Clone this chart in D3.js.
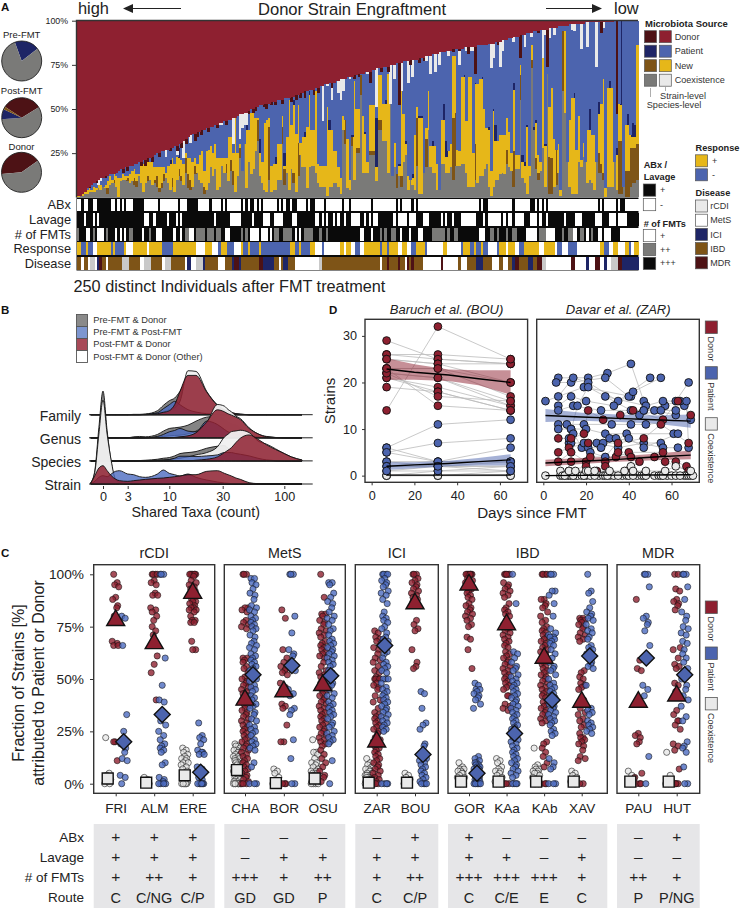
<!DOCTYPE html>
<html>
<head>
<meta charset="utf-8">
<script src="https://cdn.jsdelivr.net/npm/d3@7"></script>
<style>
    body { margin: 0; background: #fff; }
    svg { display: block; font-family: "Liberation Sans", Arial, sans-serif; fill: #222; }
</style>
</head>
<body>
<script>
// Panel A: share of strains per individual, read column by column (%)
var donorStrain = [99,99,98,97,95,94,93,92,91,90,89,89,88,88,87,87,87,86,85,84,84,83,83,82,82,81,81,80,80,79,79,78,78,77,76,75,75,74,74,73,73,72,72,71,71,70,69,68,67,66,65,64,64,63,63,62,62,61,61,60,60,59,59,58,58,57,57,56,56,55,55,54,53,53,52,52,51,50,50,49,49,48,48,47,47,47,46,46,46,45,45,45,44,44,44,43,43,42,42,41,41,40,40,39,39,39,38,38,37,37,36,36,35,35,35,34,34,33,33,33,32,32,32,31,31,30,30,30,29,29,29,28,28,27,27,27,26,26,26,25,25,25,24,24,24,23,23,23,22,22,22,22,21,21,21,20,20,20,19,19,19,18,18,18,17,17,17,16,16,16,16,16,15,15,15,15,15,15,14,14,14,14,14,13,13,13,12,12,12,11,11,11,10,10,9,9,9,8,8,8,7,7,7,6,6,6,5,5,5,5,4,4,4,4,3,3,3,3,3,2,2,2,2,2,2,2,1,1,1,1,1,1,1,1,1,1,0.5,0.5,0.5,0,0,0,0,0,0,0,0,0,0,0];
var coexSpecies = [0,1,1,2,2,3,3,3,4,5,4,6,5,2,7,8,8,6,0,9,10,10,9,8,9,7,6,12,8,3,8,9,10,7,8,6,3,5,9,11,8,4,6,3,10,12,9,7,14,5,4,6,13,14,10,8,2,4,8,17,
    12,16,4,6,18,14,14,9,15,7,3,12,22,15,30,5,20,13,16,26,32,12,8,4,3,
    10,3,4,4,10,10,30,7,14,4,16,8,3,12,24,17,17,5,17,18,18,14,8,6,6,6,1,6,6,8,8,6,2,38,30,5,4,29,10,25,25,58,14,14,14,24,24,24,9,38,38,32,32,14,60,12,17,5,12,6,20,24,4,10,7,4,18,2,2,14,17,38,17,14,14,4,4,19,19,14,14,
    17,10,18,18,18,19,19,14,6,6,6,10,8,12,12,16,19,6,1,6,10,10,13,14,13,19,17,15,6,16,16,55,11,8,2,12,73,38,16,10,15,28,6,70,2,2,6,7,14,1,60,48,20,6,2,2,2,20,17,23,20,8,10,8,4,20,14,14,10,0,6,6,6,20,4,2,2,6,0,0,6,8,8,10];
var newStrain = [1,0,1,1,2,2,1,3,1,2,3,0,2,4,5,2,4,6,11,2,3,2,1,5,6,5,4,1,11,16,15,8,10,13,7,5,12,9,4,3,10,15,11,16,13,6,9,12,3,9,12,14,4,5,14,18,9,22,19,12,
    13,14,18,16,4,8,3,25,13,10,42,13,2,0,0,33,18,35,32,19,1,13,12,38,41,
    5,15,15,15,20,20,6,2,20,51,25,38,33,21,7,17,17,35,41,20,20,46,11,12,12,12,50,32,32,18,18,11,9,8,0,28,6,0,56,22,22,0,32,22,6,26,26,26,8,25,25,21,21,56,0,0,14,0,6,49,27,6,8,0,4,31,6,43,43,0,6,22,12,15,15,15,0,25,25,9,12,
    13,35,32,9,8,49,49,29,62,62,19,34,56,55,55,34,20,32,14,43,22,22,22,21,22,18,20,10,35,8,8,6,9,10,38,6,8,0,20,10,5,60,23,0,28,40,27,0,16,3,0,46,0,38,54,54,25,26,4,8,0,30,28,27,31,0,22,34,53,5,56,56,56,0,20,21,20,0,26,26,7,6,6,56];
var newSpecies = [0,0,0,0,0,0,0,0,0,0,0,0,0,3,0,0,2,0,0,0,0,0,2,0,0,4,3,0,0,0,0,3,0,0,2,6,2,3,4,0,0,0,5,0,0,4,3,0,8,8,6,0,5,0,0,0,4,0,0,0,
    0,0,0,0,0,0,5,0,6,8,0,0,6,0,0,0,0,0,0,0,12,0,0,0,0,
    30,0,0,0,0,0,10,9,0,0,0,6,0,19,0,0,0,0,0,0,0,0,0,0,0,0,0,0,0,0,0,0,0,0,14,0,0,5,0,3,3,11,0,0,0,2,2,2,0,6,6,0,0,0,0,0,0,8,0,6,0,0,0,0,0,0,27,0,0,0,16,0,0,0,0,0,0,0,0,0,0,
    0,35,30,0,0,0,0,0,0,0,0,20,0,0,0,0,0,0,0,0,0,0,0,0,0,8,0,0,20,0,0,14,0,0,0,0,5,0,6,4,0,0,0,0,21,20,0,20,0,0,34,0,0,0,0,0,0,0,0,0,0,0,0,0,0,0,11,5,4,0,0,0,0,0,0,30,30,0,15,15,22,20,20,20];
var patientSpeciesSparse = [[41,2],[45,6],[75,4],[81,8],[88,4],[92,7],[96,3],[101,3],[103,2],[112,6],[122,1],[128,1],[133,28],[137,2],[143,1],[146,2],[149,2],[152,1],[153,1],[158,3],[163,9],[164,9],[172,1],[177,1],[180,1],[183,2],[185,1],[186,9],[194,4],[198,4],[199,2],[200,1],[203,2],[204,2],[208,1],[221,3],[228,12],[232,7],[237,4],[240,4],[242,56],[245,6],[247,8],[248,7]];
var coexStrainSparse = [[9,3],[10,2],[39,4],[44,2],[47,10],[50,4],[63,1],[64,1],[69,15],[72,14],[73,8],[74,7],[75,7],[109,20],[111,1],[113,7],[116,7],[117,12],[118,7],[121,1],[129,1],[133,22],[139,22],[141,8],[144,16],[147,12],[149,10],[155,3],[157,10],[159,10],[161,7],[165,3],[170,8],[173,2],[175,2],[176,2],[184,14],[185,8],[188,14],[189,6],[194,3],[199,7],[202,2],[207,16],[208,3],[210,6],[212,4],[220,3],[221,4],[224,14],[227,14],[231,25],[234,3]];
var donorSpeciesSparse = [[5,1],[8,1],[12,1],[20,2],[22,2],[28,2],[30,3],[31,2],[33,3],[36,2],[41,2],[44,3],[46,3],[48,3],[52,4],[53,3],[55,3],[58,2],[62,2],[66,2],[76,2],[78,2],[79,2],[83,2],[84,3],[86,2],[88,2],[91,2],[95,3],[97,3],[99,3],[101,4],[105,3],[107,3],[113,3],[123,2],[125,2],[130,6],[135,2],[138,3],[143,24],[148,3],[152,3],[154,2],[167,2],[170,1],[174,4],[177,15],[187,2],[197,13],[205,1],[209,21],[233,6],[240,53]];

var abxOff = [[0,1],[3,4],[7,8],[15,16],[18,18],[20,20],[22,24],[30,33],[34,35],[37,41],[42,43],[44,44],[46,48],[54,58],[60,63],[65,65],[67,72],[74,74],[76,76],[79,79],[81,81],[83,84],[85,88],[90,90],[92,92],[95,95],[98,101],[103,103],[106,109],[111,117],[119,120],[122,130],[132,141],[143,143],[145,148],[150,150],[152,163],[164,178],[180,180],[183,193],[195,201],[204,204],[206,206],[208,208],[210,221],[222,231],[233,233],[235,239],[241,241],[244,249]];
var lavageOff = [[3,3],[7,7],[9,9],[30,31],[34,34],[40,40],[44,44],[46,46],[61,61],[68,72],[78,78],[83,85],[88,89],[90,91],[96,97],[106,107],[109,109],[111,111],[114,114],[116,116],[119,119],[122,124],[125,125],[128,128],[130,130],[132,133],[141,141],[143,146],[148,150],[154,156],[162,162],[164,164],[167,167],[171,177],[181,181],[183,185],[186,187],[188,188],[190,190],[192,193],[195,198],[202,204],[206,206],[209,209],[217,217],[222,224],[231,233],[237,239],[241,244]];
var fmtOne = [[4,5],[9,11],[17,17],[19,19],[21,21],[29,29],[35,37],[43,43],[46,46],[50,51],[66,67],[77,80],[82,84],[86,86],[97,97],[99,99],[126,127],[131,131],[144,144],[148,148],[152,153],[179,181],[200,204],[209,212],[221,222],[227,227],[232,233],[235,237],[242,249]];
var fmtTwo = [[0,0],[7,7],[13,13],[23,24],[32,32],[48,49],[53,56],[58,60],[62,63],[73,73],[75,75],[88,89],[92,95],[101,104],[108,108],[111,111],[135,135],[137,137],[140,141],[158,163],[165,165],[168,169],[184,185],[187,187],[191,191],[194,195],[206,208],[216,216],[219,220],[224,225],[229,229]];
var responseRuns = [["+",2],["-",2],["+",1],["-",2],["NA",2],["+",6],["-",1],["+",1],["-",4],["+",1],["NA",3],["+",6],["NA",1],["+",6],["-",5],["+",10],["NA",4],["+",3],["NA",3],["-",1],["+",3],["-",3],["NA",3],["+",1],["-",2],["+",1],["-",4],["+",1],["-",13],["+",2],["-",2],["+",1],["-",4],["+",2],["NA",3],["-",1],["NA",7],["+",2],["NA",1],["+",2],["NA",2],["-",2],["NA",2],["+",3],
    ["+",4],["-",1],["+",2],["-",1],["+",4],["NA",2],["+",2],["NA",2],["-",2],["+",4],["-",1],["NA",7],["+",2],["NA",6],["-",1],["+",3],["-",2],["+",1],["-",2],["+",1],["-",2],["NA",4],["-",1],["+",3],["NA",1],["+",3],["NA",2],["-",2],["+",7],["NA",2],["+",5],["NA",1],["-",2],["NA",3],["-",4],["NA",10],["+",2],["-",2],["NA",2],["+",2],["NA",3],["+",2],["-",1],["NA",1],["+",2]];
var diseaseRuns = [["IBD",2],["MetS",1],["IBD",2],["MetS",1],["rCDI",2],["MetS",1],["ICI",1],["MDR",1],["IBD",2],["MetS",1],["IBD",6],["rCDI",3],["IBD",5],["MetS",2],["rCDI",3],["IBD",5],["MetS",1],["rCDI",3],["IBD",6],["MetS",1],["ICI",2],["MetS",2],["rCDI",3],["ICI",1],["IBD",6],["MetS",3],["IBD",3],["ICI",1],["MDR",2],["ICI",1],["IBD",8],["MDR",2],["ICI",5],["IBD",2],["MetS",1],["IBD",1],["ICI",2],["IBD",3],["MetS",4],["MetS",7],["rCDI",1],["IBD",21],
    ["IBD",5],["MetS",1],["IBD",2],["MDR",1],["IBD",4],["MDR",1],["IBD",2],["MetS",1],["MDR",1],["IBD",1],["MDR",1],["IBD",4],["MetS",8],["MDR",1],["MetS",7],["IBD",1],["MetS",3],["IBD",4],["ICI",3],["IBD",4],["MetS",3],["IBD",2],["MetS",2],["IBD",2],["ICI",1],["MDR",2],["IBD",4],["ICI",2],["IBD",2],["MDR",2],["rCDI",2],["MetS",11],["MDR",2],["MetS",5],["ICI",1],["MetS",3],["MDR",2],["MetS",2],["ICI",1],["MetS",2],["rCDI",3],["MDR",2],["ICI",6]];

var prePie = [20, 80];
var postPie = [32, 57.5, 8.3, 2.2];
var donorPie = [41.6, 58.4];

// Panel B: ridge heights on a shared grid of taxa counts
var taxaGrid = [-1.5,-1,-0.5,0,0.5,1,1.5,2,3,4,5,6,8,9,10,12,14,17,20,24,28,32,36,40,45,50,60,70,80,100,120,150];
var familyGrey  = [0,0,0,0,0,0,0,0,0,1,1,2,12,28,42,50,70,110,110,60,24,12,8,5,2,1,0,0,0,0,0,0];
var familyOther = [0,0,0,0,0,0,0,0,0,0,0,1,4,8,15,20,40,132,130,70,30,15,10,7,3,2,0,0,0,0,0,0];
var familyBlue  = [0,0,0,0,0,0,0,0,0,0,0,1,6,18,30,40,30,15,8,3,1,0,0,0,0,0,0,0,0,0,0,0];
var familyRed   = [0,0,0,0,0,0,0,0,0,0,0,0,3,7,12,30,70,118,118,68,28,14,9,6,3,1,0,0,0,0,0,0];
var genusGrey   = [0,0,0,0,0,0,0,0,0,3,4,3,10,20,28,30,32,38,50,62,65,55,48,42,38,30,12,5,1,0,0,0];
var genusOther  = [0,0,0,0,0,0,0,0,0,0,0,0,2,4,6,7,8,12,20,45,100,95,85,78,65,58,30,12,4,0,0,0];
var genusBlue   = [0,0,0,0,0,0,0,0,0,0,0,0,4,10,18,22,28,20,18,50,40,25,18,14,11,9,4,2,0,0,0,0];
var genusRed    = [0,0,0,0,0,0,0,0,0,0,0,0,0,0,0,1,3,6,15,48,84,78,72,68,62,55,28,12,3,0,0,0];
var speciesGrey = [0,0,0,0,0,0,0,0,0,0,1,2,5,8,10,15,22,25,28,38,44,46,38,30,30,28,14,6,2,0,0,0];
var speciesOther= [0,0,0,0,0,0,0,0,0,0,0,0,2,3,4,6,8,12,18,25,42,72,80,88,90,92,85,60,50,22,12,2];
var speciesBlue = [0,0,0,0,0,0,0,0,0,0,0,0,1,2,4,8,14,14,13,15,18,25,25,25,22,20,15,8,3,0,0,0];
var speciesRed  = [0,0,0,0,0,0,0,0,0,0,0,0,0,0,0,0,0,0,2,5,12,25,32,40,55,68,78,65,48,22,12,3];
var strainGrey  = [3,40,170,279,160,65,12,3,0,0,0,0,0,0,0,0,0,0,0,0,0,0,0,0,0,0,0,0,0,0,0,0];
var strainOther = [3,35,150,252,150,70,15,5,2,0,0,0,0,0,0,0,0,0,0,0,0,0,0,0,0,0,0,0,0,0,0,0];
var strainBlue  = [1,8,20,25,22,30,38,40,30,28,22,20,30,42,32,28,24,30,20,12,6,3,2,1,0,0,0,0,0,0,0,0];
var strainRed   = [2,25,48,55,40,25,15,10,8,10,12,14,17,18,20,22,24,28,28,38,40,32,28,24,18,14,4,1,0,0,0,0];
var ridgeTicks = [0,3,10,30,100];
var ridgeRows = ["Family","Genus","Species","Strain"];

// Panel D: Baruch subjects at three visits
var bouDays = [7,31,65];
var bouDonorSubjects = [[29,25,24],[26,26,25],[26,25,24],[25,24,24],[25,24,20],[23,23,20],[23,23,17],[22,21,16],[22,21,15],[21,19,15],[19,18,14],[14,32,25],[21,18,14],[22,17,16],[23,15,14]];
var bouPatientSubjects = [[6,11,12],[5,7,8],[6,3,6],[5,3,3],[3,3,3],[3,2,2],[2,2,2],[2,2,3],[1,1,2],[1,2,1]];
var bouCoexSubjects = [[0,0,0],[0,1,1],[0,0,0],[0,0,1]];
// Panel D: Davar subjects as [day, strains] tracks
var zarPatientTracks = [
    [[1,16],[19,19],[41,17]],[[7,21],[21,21],[30,22],[41,24],[47,16]],[[6,20],[13,20],[29,21],[40,17]],[[7,17],[14,21],[21,20],[35,16],[50,21]],
    [[7,15],[13,17],[20,16],[33,15],[42,18],[55,21]],[[7,14],[14,15],[27,14],[47,14],[57,15]],[[7,11],[11,11],[19,11],[32,11],[41,11],[48,11],[69,12]],
    [[7,10],[13,10],[20,10],[29,9],[39,9],[61,9]],[[12,7],[13,10],[18,6],[25,7],[35,6],[47,7],[55,7]],[[14,9],[12,8],[16,15],[21,19],[41,14],[52,14],[62,13]],
    [[13,7],[19,7],[28,7],[40,8],[47,6],[63,9]],[[21,6],[27,6],[31,8],[34,8],[56,6],[63,6]],[[22,5],[29,4],[45,13],[55,14],[62,14],[66,15]],
    [[29,17],[48,15],[56,16],[62,16],[68,20]],[[47,14],[64,16],[67,16],[68,6]]];
var zarDonorTracks = [
    [[7,8],[13,8],[19,9],[21,14],[28,12],[36,13],[42,14],[56,12],[63,16],[69,13]],[[7,5],[12,6],[21,7],[35,7],[47,8],[55,11],[68,7]],[[7,3],[13,5],[20,3],[29,3],[40,5],[56,5],[62,3],[67,2]],
    [[13,3],[22,4],[34,4],[41,4],[52,4],[57,3],[68,1]],[[12,1],[20,2],[25,1],[29,2],[35,5],[45,3],[39,1]]];
var zarCoexTracks = [
    [[1,0],[8,0],[11,0],[15,0],[20,0],[26,0],[31,0],[37,0],[44,0],[52,0],[58,0],[66,0]],[[8,1],[12,0],[16,0],[22,0],[28,0],[33,0],[39,0],[46,0],[54,0],[60,0],[67,0]],
    [[9,0],[13,0],[18,0],[24,0],[29,0],[35,0],[40,0],[47,0],[55,0],[62,0],[68,0]],[[10,0],[14,0],[19,0],[30,0],[42,0],[48,0],[56,0],[64,0],[69,0],[70,0]],
    [[12,1],[15,1],[20,1],[21,1],[24,1],[31,1],[38,1],[41,2],[42,1],[48,1],[57,1],[62,2],[69,1]]];
var bouFitDays = [7,20,36,50,65];
var bouDonorFit = [22.9,22.2,21.6,20.8,20], bouDonorLo = [20.6,20.6,20.3,19.4,17.4], bouDonorHi = [25.2,23.9,22.8,22.6,22.6];
var bouPatientFit = [2,2.3,2.6,3,3.4], bouPatientLo = [1.2,1.6,2,2.2,2.2], bouPatientHi = [2.9,2.9,3.2,3.8,4.6];
var bouCoexFit = [0.1,0.1,0.1,0.1,0.1], bouCoexLo = [0,0,0,0,0], bouCoexHi = [0.3,0.2,0.2,0.2,0.3];
var zarFitDays = [1,18,35,52,69];
var zarPatientFit = [12.9,12.6,12.3,12,11.7], zarPatientLo = [11.5,11.8,11.5,11.2,10.3], zarPatientHi = [14.3,13.5,13.1,12.9,13.1];
var zarDonorFit = [2.7,3.1,3.5,4,4.4], zarDonorLo = [2,2.5,3,3.3,3.5], zarDonorHi = [3.4,3.8,4.1,4.7,5.4];
var zarCoexFit = [0,0.05,0.1,0.15,0.2], zarCoexLo = [0,0,0,0,0], zarCoexHi = [0.2,0.2,0.3,0.3,0.5];

// Panel C: per individual fractions by study (%)
var friDonor = [100,96,95,94,89,88,85,84,80,78,68,67,66,66,20,20,11];
var friPatient = [80,79,66,33,25,19,17,15,12,11,4,3,0];
var friCoex = [22,5,4,2,1,0,0];
var almDonor = [100,100,100,100,97,96,95,91,90,90,84,83,82,80,78,75,73,71,61,57,53,40];
var almPatient = [100,100,100,60,47,40,39,33,30,28,25,23,21,19,18,17,16,15,10,9,3,2,1,0,0,0,0];
var almCoex = [3,2,1,0];
var ereDonor = [100,100,100,100,100,100,100,99,97,96,95,94,93,92,91,90,89,88,87,87,86,85,84,84,83,83,82,80,78,78,77,77,68,64,64];
var erePatient = [29,23,22,21,19,16,15,15,14,14,8,7,6,5,4,3,2,0,0,0,0,0,0];
var ereCoex = [17,16,15,14,13,12,12,11,10,10,9,8,7,6,5,4,3,2,1,0,0,0,0,0];
var chaDonor = [100,100,100,84,84,83,82,78,77,76,75,74,60,60,59,58,56,55,53,51,50,49,48,47,46,45,44,43,42,41,40,39,38,37,36,35,34,33,32,31,30,29,28,27,26,25,24,23,22,21,20,19,18,17,16,15,14,13,12,11,10,9,8,7,6,5,4,3,2,1,0,0,0];
var chaPatient = [98,98,96,95,93,91,90,88,85,84,83,82,80,79,78,77,76,75,74,73,71,70,68,67,66,65,64,62,61,60,59,58,57,56,55,54,53,52,51,50,49,47,46,45,44,42,41,40,38,37,36,34,33,31,30,28,27,26,25,24,23,21,20,19,18,17,16,10,8,0,0,0];
var chaCoex = [19,18,18,17,16,16,15,15,14,14,13,13,12,12,11,11,10,10,9,9,8,8,7,7,6,6,5,5,4,4,3,3,2,2,1,1,0,0,0,0,0,0,0];
var borDonor = [83,79,64,60,58,56,55,54,53,52,48,46,45,44,43,38,37,36,28,20,20,0,0,0];
var borPatient = [100,100,100,80,72,64,62,61,58,54,45,43,42,36,35,33,21,12,0,0];
var borCoex = [7,6,5,3,1,0,0];
var osuDonor = [100,89,81,81,80,78,77,76,74,73,72,71,70,68,67,66,65,64,63,62,61,60,58,56,54,53,52,51,50,49,48,46,45,44,43,42,41,40,39,38,37,36,35,34,33,32,31,30,29,28,27,26,25,24,23,22,21,20,19,18,16,14,12,10,8,6,4,3,1];
var osuPatient = [96,96,95,91,89,87,86,84,82,80,79,78,76,74,73,71,69,68,67,66,65,64,63,62,61,60,59,58,57,56,54,53,52,51,50,49,48,47,45,43,42,41,39,38,37,36,35,34,33,32,31,29,28,27,25,24,23,22,21,20,19,11,0];
var osuCoex = [21,15,15,14,12,10,10,9,8,7,6,6,5,5,4,4,3,3,2,2,1,1,0,0,0,0];
var zarDonor = [73,72,70,69,68,65,64,62,60,59,58,56,54,53,51,50,50,50,50,48,47,46,45,42,40,39,36,34,33,32,31,30,29,28,27,26,25,24,22,21,20,19,18,17,16,15,14,13,12,11,10,9,8,7,6,5,4,3,2,1,0,0,0];
var zarPatient = [100,100,100,100,98,97,96,95,94,92,91,90,88,86,82,80,79,78,77,75,74,72,70,69,68,67,66,65,63,62,60,58,57,56,55,54,53,50,50,50,48,46,45,44,43,42,41,40,39,38,37,36,35,34,33,32,31,30,29,28,27,26,25,0,0,0,0];
var zarCoex = [12,10,9,8,7,7,6,6,5,5,4,4,4,3,3,3,2,2,2,1,1,1,0,0,0,0,0,0];
var bouDonor = [100,100,100,98,97,96,95,94,93,92,91,90,89,88,87,87,78,76,74,73,64,58,56,55];
var bouPatient = [44,43,36,29,28,26,19,18,13,12,11,10,9,8,7,6,5,4,3,2,1,0,0,0,0];
var bouCoex = [5,4,3,2,0,0];
var gorDonor = [100,100,100,100,100,100,100,100,98,97,96,95,94,93,92,91,90,89,88,86,85,84,83,82,81,80,79,78,76,75,70,69,64,55];
var gorPatient = [48,47,45,45,44,43,42,41,40,38,36,13,12,11,10,10,9,9,8,8,7,7,6,6,5,5,4,4,3,3,2,2,1,1,0,0,0,0,0,0];
var gorCoex = [10,8,7,7,6,6,5,5,4,3,3,2,1,0,0];
var kaaDonor = [100,100,100,100,100,96,95,94,93,92,91,90,89,86,84,83,82,81,80,78,76,75,74,73,72,71,70,69,68,67,66,65,63,62,61,60,59,58,57,56,55,54,53,52,51,50,49,48,47,46,45,42,42,38,37,36,35,0,0,0];
var kaaPatient = [100,86,63,62,60,58,56,55,54,52,51,50,49,48,47,46,45,44,43,42,41,40,39,38,37,36,35,34,33,32,31,30,29,28,27,26,25,24,22,21,20,19,18,17,16,15,14,13,12,11,10,9,8,7,6,5,4,3,0,0,0,0];
var kaaCoex = [12,11,10,8,7,6,6,5,4,3,1,0,0,0];
var kabDonor = [100,100,100,100,88,88,86,85,84,82,80,78,77,75,74,73,72,71,70,69,68,67,66,65,64,63,62,60,59,58,57,56,55,54,53,52,51,50,49,48,47,46,45,44,43,42,41,39,38,37,36,35,34,33,32,31,30,29,20,19,17,15,13,10,8,0,0,0];
var kabPatient = [100,100,100,92,92,90,86,80,74,72,71,70,70,69,68,67,66,64,62,60,58,56,55,54,52,50,48,47,46,45,44,43,42,41,40,38,37,36,35,34,33,32,31,30,29,28,26,25,24,23,12,10,8,7,0,0,0];
var kabCoex = [17,9,8,7,7,6,6,5,5,4,3,2,0,0,0];
var xavDonor = [79,79,78,78,77,76,75,74,72,71,70,69,68,54,53,51,50,48,47,46,45,40,39,36,34,33,31,30,28,27,24,22,22,21,20,19,18,16,13,12,11,0,0];
var xavPatient = [100,92,91,87,84,82,81,80,79,78,76,74,73,72,70,69,66,65,64,63,62,58,57,56,55,47,36,35,34,33,30,29,28,27,26,25,24];
var xavCoex = [6,5,4,3,2,1,0,0];
var pauDonor = [88,59,55,54,24,23,22,20,19,5,3,0,0,0];
var pauPatient = [100,100,100,94,80,79,77,76,73,66,47,45,42,13,0];
var pauCoex = [6,4,2,1,0];
var hutDonor = [100,100,93,92,88,87,86,85,83,65,64,60,57,56,55,48,47,44,42,35,33,30,30,28,26,19,18,16,7,0,0,0,0];
var hutPatient = [100,100,100,94,88,82,80,78,75,74,72,71,68,67,64,62,60,58,55,52,50,47,45,42,40,37,32,30,20,18,17,15,8,0,0];
var hutCoex = [15,4,2,1,0,0];

var studies = ["FRI","ALM","ERE","CHA","BOR","OSU","ZAR","BOU","GOR","KAa","KAb","XAV","PAU","HUT"];
var meanDonor = [78,67,91,40,44,47,20,86,95,76,60,39,39,42];
var meanPatient = [20,33,5.5,52,56.5,51.5,66,14,5,24,40,61,60,52];
var meanCoex = [2.5,0.5,4,6.5,0.3,2.5,0.5,0.5,1,1,1,1,1,1];
var abxRow = ["+","+","+","–","–","–","–","+","+","–","–","–","–","+"];
var lavageRow = ["+","+","+","–","+","+","+","+","+","+","–","+","–","–"];
var fmtRow = ["+","++","+","+++","+","++","+","++","+++","+++","+++","+","++","+"];
var routeRow = ["C","C/NG","C/P","GD","GD","P","C","C/P","C","C/E","E","C","P","P/NG"];
var jitterSteps = [-2,1.5,-1,3,0,-3,2,1,-1.5,3.5,-3.5,1.5,-2,2.5,-0.5];

var red = "#8e2030", darkRed = "#4d1215", blue = "#4c64ae", navy = "#1e2566",
    gold = "#e6b719", brown = "#7e5417", grey = "#7a7a78", pale = "#e9e9e9";

var svg = d3.select("body")
            .append("svg")
            .attr("width", 740)
            .attr("height", 909);

function text(x, y, s, size, anchor, weight, color) {
    return svg.append("text")
              .attr("x", x)
              .attr("y", y)
              .attr("dy", "0.35em")
              .attr("text-anchor", anchor || "start")
              .attr("font-size", size)
              .attr("font-weight", weight || "normal")
              .attr("fill", color || "#222")
              .text(s);
}

function box(x, y, w, h, fill, stroke, strokeWidth) {
    return svg.append("rect")
              .attr("x", x)
              .attr("y", y)
              .attr("width", w)
              .attr("height", h)
              .attr("fill", fill)
              .attr("stroke", stroke || "none")
              .attr("stroke-width", strokeWidth || 1);
}

function styleAxis(g, size) {
    g.selectAll("text").attr("font-size", size).attr("fill", "#222");
    g.selectAll("line").attr("stroke", "#333");
    g.select(".domain").remove();
}

[["A", 1, 7], ["B", 1, 310], ["C", 1, 552.5], ["D", 329, 310]].forEach(function(d) {
    text(d[1], d[2], d[0], 11.5, "start", "bold", "#111");
});

// ---- panel A ----
var colX = d3.scaleBand().domain(d3.range(250)).range([77, 638]);
var pctY = d3.scaleLinear().domain([0, 100]).range([197.3, 20.7]);
var stackKeys = ["coexSpecies", "newSpecies", "newStrain", "patientSpecies", "patientStrain", "coexStrain", "donorSpecies", "donorStrain"];
var stackColors = {
    coexSpecies: grey, newSpecies: brown, newStrain: gold, patientSpecies: navy,
    patientStrain: blue, coexStrain: pale, donorSpecies: darkRed, donorStrain: red
};

function fromSparse(pairs) {
    var out = d3.range(250).map(function() { return 0; });
    pairs.forEach(function(p) { out[p[0]] = p[1]; });
    return out;
}

var patientSpecies = fromSparse(patientSpeciesSparse);
var coexStrain = fromSparse(coexStrainSparse);
var donorSpecies = fromSparse(donorSpeciesSparse);

var stackRows = d3.range(250).map(function(i) {
    var left = 100 - donorStrain[i];
    var row = { donorStrain: donorStrain[i] };
    [["donorSpecies", donorSpecies], ["coexStrain", coexStrain], ["coexSpecies", coexSpecies],
     ["newSpecies", newSpecies], ["newStrain", newStrain], ["patientSpecies", patientSpecies]].forEach(function(k) {
        row[k[0]] = Math.min(k[1][i], left);
        left -= row[k[0]];
    });
    row.patientStrain = left;
    return row;
});

svg.append("g")
   .attr("shape-rendering", "crispEdges")
   .selectAll("g")
   .data(d3.stack().keys(stackKeys)(stackRows))
   .enter()
   .append("g")
   .attr("fill", function(d) { return stackColors[d.key]; })
   .selectAll("rect")
   .data(function(d) { return d; })
   .enter()
   .append("rect")
   .attr("x", function(d, i) { return colX(i); })
   .attr("width", colX.bandwidth() + 0.6)
   .attr("y", function(d) { return pctY(d[1]); })
   .attr("height", function(d) { return pctY(d[0]) - pctY(d[1]); });

svg.append("path").attr("d", "M76.5,197.5V20.5H638").attr("fill", "none").attr("stroke", "#333").attr("stroke-width", 1.4);
var pctAxis = svg.append("g")
                 .attr("transform", "translate(76,0)")
                 .call(d3.axisLeft(pctY).tickValues([25, 50, 75, 100]).tickSize(4).tickPadding(4).tickFormat(function(d) { return d + "%"; }));
styleAxis(pctAxis, 8.8);

text(78, 8, "high", 16.4);
text(352, 9, "Donor Strain Engraftment", 16.6, "middle");
text(614, 8, "low", 16.4);
svg.append("line").attr("x1", 181).attr("x2", 128).attr("y1", 8.5).attr("y2", 8.5).attr("stroke", "#222");
svg.append("polygon").attr("points", "123,8.5 133,4 133,13").attr("fill", "#222");
svg.append("line").attr("x1", 546).attr("x2", 597).attr("y1", 8.5).attr("y2", 8.5).attr("stroke", "#222");
svg.append("polygon").attr("points", "602,8.5 592,4 592,13").attr("fill", "#222");

// annotation strips under the stacked bars
function fromRanges(ranges, value, base) {
    var out = base || d3.range(250).map(function() { return "on"; });
    ranges.forEach(function(r) {
        d3.range(r[0], r[1] + 1).forEach(function(i) { out[i] = value; });
    });
    return out;
}

function fromRuns(runs) {
    var out = [];
    runs.forEach(function(r) {
        d3.range(r[1]).forEach(function() { out.push(r[0]); });
    });
    while (out.length < 250) { out.push(runs[runs.length - 1][0]); }
    return out.slice(0, 250);
}

var stripRows = ["ABx", "Lavage", "# of FMTs", "Response", "Disease"];
var stripY = d3.scaleBand().domain(stripRows).range([198.6, 269.6]).paddingInner(0.12);
var stripColor = {
    on: "#0a0a0a", off: "#fff", two: "#7a7a78", "+": gold, "-": blue, NA: "#fff",
    rCDI: "#c9c9c9", MetS: "#fff", ICI: navy, IBD: brown, MDR: darkRed
};
var stripValues = {
    "ABx": fromRanges(abxOff, "off"),
    "Lavage": fromRanges(lavageOff, "off"),
    "# of FMTs": fromRanges(fmtTwo, "two", fromRanges(fmtOne, "off")),
    "Response": fromRuns(responseRuns),
    "Disease": fromRuns(diseaseRuns)
};

box(76.5, 197.5, 562, 73, "#0a0a0a");
stripRows.forEach(function(row) {
    svg.append("g")
       .attr("shape-rendering", "crispEdges")
       .selectAll("rect")
       .data(stripValues[row])
       .enter()
       .append("rect")
       .attr("x", function(d, i) { return colX(i); })
       .attr("width", colX.bandwidth() + 0.6)
       .attr("y", stripY(row))
       .attr("height", stripY.bandwidth())
       .attr("fill", function(d) { return stripColor[d]; });
    text(71, stripY(row) + stripY.bandwidth() / 2, row, 12.8, "end");
});
text(73.5, 286.5, "250 distinct Individuals after FMT treatment", 16.3);

// pies
function drawPie(values, colors, cx, cy, start, title, titleY) {
    var pie = d3.pie().sort(null).startAngle(start).endAngle(start + 2 * Math.PI);
    var arc = d3.arc().innerRadius(0).outerRadius(20);
    svg.append("g")
       .attr("transform", "translate(" + cx + "," + cy + ")")
       .selectAll("path")
       .data(pie(values))
       .enter()
       .append("path")
       .attr("d", arc)
       .attr("fill", function(d, i) { return colors[i]; });
    svg.append("circle").attr("cx", cx).attr("cy", cy).attr("r", 20).attr("fill", "none").attr("stroke", "#222").attr("stroke-width", 0.9);
    text(cx, titleY, title, 9.5, "middle");
}
drawPie(prePie, [navy, grey], 21.7, 61, -20 * Math.PI / 180, "Pre-FMT", 35);
drawPie(postPie, [darkRed, grey, navy, brown], 21.7, 117.7, -57 * Math.PI / 180, "Post-FMT", 90.7);
drawPie(donorPie, [darkRed, grey], 21.5, 172.3, -95 * Math.PI / 180, "Donor", 146.5);

// legends of panel A
text(645, 24, "Microbiota Source", 9.5, "start", "bold");
[[darkRed, red, "Donor"], [navy, blue, "Patient"], [brown, gold, "New"], [grey, pale, "Coexistence"]].forEach(function(d, i) {
    var y = 30.7 + i * 14.5;
    box(644.5, y, 12, 12, d[0], "#555", 0.7);
    box(659.3, y, 12, 12, d[1], "#555", 0.7);
    text(674.7, y + 6, d[2], 9.1, "start", "normal", "#333");
});
svg.append("line").attr("x1", 650.5).attr("x2", 650.5).attr("y1", 88).attr("y2", 97).attr("stroke", "#777").attr("stroke-width", 0.6);
svg.append("line").attr("x1", 665.5).attr("x2", 665.5).attr("y1", 87).attr("y2", 91).attr("stroke", "#777").attr("stroke-width", 0.6);
text(660, 96, "Strain-level", 9.2, "start", "normal", "#333");
text(646.7, 105, "Species-level", 9.2, "start", "normal", "#333");

text(695.5, 148, "Response", 9.2, "start", "bold");
[[gold, "+"], [blue, "-"]].forEach(function(d, i) {
    box(695.5, 154.8 + i * 14, 12, 12, d[0], "#555", 0.7);
    text(712, 160.8 + i * 14, d[1], 9, "start", "normal", "#333");
});
text(695.5, 193, "Disease", 9.2, "start", "bold");
[[pale, "rCDI"], ["#fff", "MetS"], [navy, "ICI"], [brown, "IBD"], [darkRed, "MDR"]].forEach(function(d, i) {
    box(695.5, 200 + i * 14.2, 12, 12, d[0], "#555", 0.7);
    text(710.3, 206 + i * 14.2, d[1], 9, "start", "normal", "#333");
});
text(643.7, 165, "ABx /", 9.2, "start", "bold");
text(643.7, 176.7, "Lavage", 9.2, "start", "bold");
[["#0a0a0a", "+"], ["#fff", "-"]].forEach(function(d, i) {
    box(643.3, 184 + i * 14.5, 12.4, 12.2, d[0], "#555", 0.7);
    text(660, 190 + i * 14.5, d[1], 9, "start", "normal", "#333");
});
text(643.7, 223.3, "# of FMTs", 9.2, "start", "bold");
[["#fff", "+"], [grey, "++"], ["#0a0a0a", "+++"]].forEach(function(d, i) {
    box(643.3, 229.5 + i * 13.9, 12.4, 12.2, d[0], "#555", 0.7);
    text(660, 235.5 + i * 13.9, d[1], 9, "start", "normal", "#333");
});

// ---- panel B ----
var taxaX = d3.scaleLinear()
              .domain([-1.5, 0, 3, 10, 30, 100, 150])
              .range([90.7, 103, 127.7, 169.3, 222.7, 284.3, 302]);
var ridgeBase = d3.scalePoint().domain(ridgeRows).range([414.7, 484]);
var ridgeH = d3.scaleLinear().domain([0, 100]).range([0, 33.3]);
var ridgeSeries = {
    Family: [familyGrey, familyOther, familyBlue, familyRed],
    Genus: [genusGrey, genusOther, genusBlue, genusRed],
    Species: [speciesGrey, speciesOther, speciesBlue, speciesRed],
    Strain: [strainGrey, strainOther, strainBlue, strainRed]
};
var ridgeFills = [["#777", 0.9], ["#f0f0f0", 0.95], ["#4c6cc0", 0.8], ["#8e2030", 0.85]];

ridgeRows.forEach(function(row) {
    var base = ridgeBase(row);
    var area = d3.area()
                 .curve(d3.curveMonotoneX)
                 .x(function(d, i) { return taxaX(taxaGrid[i]); })
                 .y0(base)
                 .y1(function(d) { return base - ridgeH(d); });
    ridgeSeries[row].forEach(function(values, k) {
        svg.append("path")
           .datum(values)
           .attr("d", area)
           .attr("fill", ridgeFills[k][0])
           .attr("fill-opacity", ridgeFills[k][1])
           .attr("stroke", "#111")
           .attr("stroke-width", 0.9);
    });
    svg.append("line").attr("x1", 89).attr("x2", 312.7).attr("y1", base).attr("y2", base).attr("stroke", "#222").attr("stroke-width", 1);
    text(81, base + 1, row, 14, "end");
});

var taxaAxis = svg.append("g")
                  .attr("transform", "translate(0,486)")
                  .call(d3.axisBottom(taxaX).tickValues(ridgeTicks).tickSize(3));
styleAxis(taxaAxis, 12.6);
text(195.7, 512, "Shared Taxa (count)", 14.3, "middle");

[["#8a8a8a", "Pre-FMT & Donor"], ["#7d96d0", "Pre-FMT & Post-FMT"], ["#a84a58", "Post-FMT & Donor"], ["#fff", "Post-FMT & Donor (Other)"]].forEach(function(d, i) {
    box(76.5, 314.5 + i * 12, 11, 12, d[0], "#555", 0.9);
    text(93.3, 320 + i * 12.1, d[1], 9.3, "start", "normal", "#333");
});

// ---- panel D ----
var strainY = d3.scaleLinear().domain([-1.43, 33.56]).range([482.3, 319.3]);
var bouX = d3.scaleLinear().domain([-3.1, 73]).range([365, 527.7]);
var zarX = d3.scaleLinear().domain([-3.1, 73]).range([536.7, 699.3]);

function drawTracks(tracks, xScale, color) {
    var line = d3.line()
                 .x(function(d) { return xScale(d[0]); })
                 .y(function(d) { return strainY(d[1]); });
    svg.append("g")
       .selectAll("path")
       .data(tracks)
       .enter()
       .append("path")
       .attr("d", line)
       .attr("fill", "none")
       .attr("stroke", "#bbb")
       .attr("stroke-width", 0.8);
    return function() {
        svg.append("g")
           .selectAll("circle")
           .data(d3.merge(tracks))
           .enter()
           .append("circle")
           .attr("cx", function(d) { return xScale(d[0]); })
           .attr("cy", function(d) { return strainY(d[1]); })
           .attr("r", 3.9)
           .attr("fill", color)
           .attr("stroke", "#111")
           .attr("stroke-width", 0.9);
    };
}

function drawFit(days, fit, lo, hi, xScale, color) {
    var area = d3.area()
                 .x(function(d, i) { return xScale(days[i]); })
                 .y0(function(d, i) { return strainY(lo[i]); })
                 .y1(function(d) { return strainY(d); });
    svg.append("path").datum(hi).attr("d", area).attr("fill", color).attr("fill-opacity", 0.5);
    return function() {
        var line = d3.line()
                     .x(function(d, i) { return xScale(days[i]); })
                     .y(function(d) { return strainY(d); });
        svg.append("path").datum(fit).attr("d", line).attr("fill", "none").attr("stroke", "#000").attr("stroke-width", 1.4);
    };
}

function triples(subjects) {
    return subjects.map(function(s) {
        return s.map(function(v, i) { return [bouDays[i], v]; });
    });
}

function drawStrainPanel(xScale, title, x0, trackSets, fitSets, days) {
    box(x0, 319.3, 162.6, 163, "#fff");
    var dotDraws = trackSets.map(function(t) { return drawTracks(t[0], xScale, t[1]); });
    var lineDraws = fitSets.map(function(f) { return drawFit(days, f[0], f[1], f[2], xScale, f[3]); });
    dotDraws.forEach(function(f) { f(); });
    lineDraws.forEach(function(f) { f(); });
    box(x0, 319.3, 162.6, 163, "none", "#333", 1.4);
    var g = svg.append("g")
               .attr("transform", "translate(0,482.3)")
               .call(d3.axisBottom(xScale).tickValues([0, 20, 40, 60]).tickSize(3));
    styleAxis(g, 12.6);
    g.selectAll("text").attr("dy", "0.95em");
    text(x0 + 81.5, 309, title, 13, "middle").attr("font-style", "italic");
}

drawStrainPanel(bouX, "Baruch et al. (BOU)", 365,
    [[triples(bouCoexSubjects), pale], [triples(bouPatientSubjects), blue], [triples(bouDonorSubjects), red]],
    [[bouDonorFit, bouDonorLo, bouDonorHi, red], [bouPatientFit, bouPatientLo, bouPatientHi, blue], [bouCoexFit, bouCoexLo, bouCoexHi, "#999"]],
    bouFitDays);
drawStrainPanel(zarX, "Davar et al. (ZAR)", 536.7,
    [[zarPatientTracks, blue], [zarDonorTracks, red], [zarCoexTracks, pale]],
    [[zarPatientFit, zarPatientLo, zarPatientHi, blue], [zarDonorFit, zarDonorLo, zarDonorHi, red], [zarCoexFit, zarCoexLo, zarCoexHi, "#999"]],
    zarFitDays);

var strainAxis = svg.append("g")
                    .attr("transform", "translate(365,0)")
                    .call(d3.axisLeft(strainY).tickValues([0, 10, 20, 30]).tickSize(3).tickPadding(5));
styleAxis(strainAxis, 12.6);
text(0, 0, "Strains", 15, "middle").attr("transform", "translate(330,401) rotate(-90)");
text(532, 512.5, "Days since FMT", 15.2, "middle");

function sideLegend(items) {
    items.forEach(function(d) {
        box(d[2], d[3], 12, 12.4, d[0], "#555", 0.8);
        text(0, 0, d[1], 9.1, "start", "normal", "#333")
            .attr("transform", "translate(" + (d[2] + 6) + "," + (d[3] + 15.5) + ") rotate(90)");
    });
}
sideLegend([[red, "Donor", 705.3, 321], [blue, "Patient", 705.3, 366.7], [pale, "Coexistence", 705.3, 417.7]]);

// ---- panel C ----
var fracY = d3.scaleLinear().domain([0, 100]).range([783.7, 574.3]);
var dodge = d3.scalePoint().domain(["Coex", "Donor", "Patient"]).range([-8, 8]);
var facetNames = ["rCDI", "MetS", "ICI", "IBD", "MDR"];
var facetStudies = [["FRI","ALM","ERE"], ["CHA","BOR","OSU"], ["ZAR","BOU"], ["GOR","KAa","KAb","XAV"], ["PAU","HUT"]];
var facetBox = [[93.7, 214.7, 115.7, 192.7], [224.3, 345.3, 245, 322.7], [355.3, 438.3, 376.7, 415], [448, 607.3, 469, 581.7], [617, 699.7, 638.3, 676.7]];
var studyPoints = {
    FRI: [friCoex, friDonor, friPatient], ALM: [almCoex, almDonor, almPatient], ERE: [ereCoex, ereDonor, erePatient],
    CHA: [chaCoex, chaDonor, chaPatient], BOR: [borCoex, borDonor, borPatient], OSU: [osuCoex, osuDonor, osuPatient],
    ZAR: [zarCoex, zarDonor, zarPatient], BOU: [bouCoex, bouDonor, bouPatient], GOR: [gorCoex, gorDonor, gorPatient],
    KAa: [kaaCoex, kaaDonor, kaaPatient], KAb: [kabCoex, kabDonor, kabPatient], XAV: [xavCoex, xavDonor, xavPatient],
    PAU: [pauCoex, pauDonor, pauPatient], HUT: [hutCoex, hutDonor, hutPatient]
};
var sourceNames = ["Coex", "Donor", "Patient"];
var sourceFill = { Coex: "#e4e4e4", Donor: red, Patient: "#4c6cc0" };

facetNames.forEach(function(name, f) {
    var b = facetBox[f];
    var x = d3.scalePoint().domain(facetStudies[f]).range([b[2], b[3]]);
    box(b[0], 564.7, b[1] - b[0], 228.6, "#fff");

    facetStudies[f].forEach(function(study) {
        var cx = x(study);
        sourceNames.forEach(function(src, s) {
            svg.append("g")
               .selectAll("circle")
               .data(studyPoints[study][s])
               .enter()
               .append("circle")
               .attr("cx", function(d, i) { return cx + dodge(src) + jitterSteps[i % jitterSteps.length]; })
               .attr("cy", function(d) { return fracY(d); })
               .attr("r", 3.1)
               .attr("fill", sourceFill[src])
               .attr("fill-opacity", src === "Coex" ? 0.7 : 0.8)
               .attr("stroke", "#111")
               .attr("stroke-opacity", 0.8)
               .attr("stroke-width", 0.7);
        });
    });

    facetStudies[f].forEach(function(study) {
        var cx = x(study);
        var k = studies.indexOf(study);
        var symbols = [
            [d3.symbolSquare, 120, meanCoex[k], "Coex", pale, 0],
            [d3.symbolTriangle, 140, meanDonor[k], "Donor", red, 0],
            [d3.symbolSquare, 128, meanPatient[k], "Patient", blue, 45]
        ];
        symbols.forEach(function(m) {
            svg.append("path")
               .attr("d", d3.symbol().type(m[0]).size(m[1]))
               .attr("transform", "translate(" + (cx + dodge(m[3])) + "," + fracY(m[2]) + ") rotate(" + m[5] + ")")
               .attr("fill", m[4])
               .attr("stroke", "#111")
               .attr("stroke-width", 1.4);
        });
    });

    box(b[0], 564.7, b[1] - b[0], 228.6, "none", "#333", 1.4);
    text((b[0] + b[1]) / 2, 552.5, name, 14.3, "middle");

    var axis = svg.append("g")
                  .attr("transform", "translate(0,793.3)")
                  .call(d3.axisBottom(x).tickSize(3));
    styleAxis(axis, 13.6);
    axis.selectAll("text").attr("dy", "1em");

    // table under each facet
    box(b[0], 824, b[1] - b[0], 84, "#e6e6e8");
    facetStudies[f].forEach(function(study) {
        var k = studies.indexOf(study);
        text(x(study), 836.5, abxRow[k], 15.5, "middle");
        text(x(study), 857, lavageRow[k], 15.5, "middle");
        text(x(study), 877, fmtRow[k], 15.5, "middle");
        text(x(study), 897.5, routeRow[k], 14.5, "middle");
    });
});

var fracAxis = svg.append("g")
                  .attr("transform", "translate(93,0)")
                  .call(d3.axisLeft(fracY).tickValues([0, 25, 50, 75, 100]).tickSize(3).tickPadding(6).tickFormat(function(d) { return d + "%"; }));
styleAxis(fracAxis, 13.7);
text(0, 0, "Fraction of Strains [%]", 16, "middle").attr("transform", "translate(18,683) rotate(-90)");
text(0, 0, "attributed to Patient or Donor", 16, "middle").attr("transform", "translate(38.3,683) rotate(-90)");
["ABx", "Lavage", "# of FMTs", "Route"].forEach(function(s, i) {
    text(84, 837 + i * 20.2, s, 13.5, "end");
});

sideLegend([[red, "Donor", 705.3, 601], [blue, "Patient", 705.3, 647], [pale, "Coexistence", 705.3, 697.5]]);
</script>
</body>
</html>
